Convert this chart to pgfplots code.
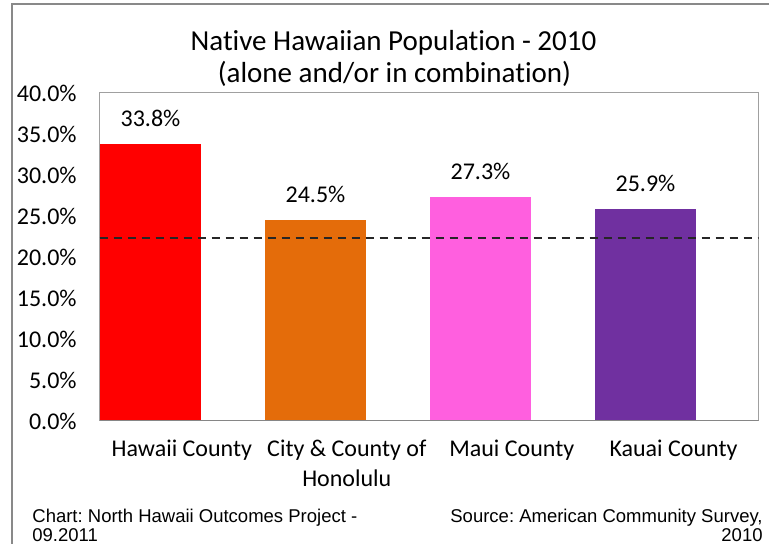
\documentclass[border=0pt]{standalone}
\usepackage{pgfplots}
\pgfplotsset{compat=1.18}
\usepackage{fontspec}
\setmainfont{Carlito}[Ligatures=NoCommon]
\newfontfamily\arialfont{Liberation Sans}
\frenchspacing

\definecolor{hawaiired}{HTML}{FF0000}
\definecolor{honoorange}{HTML}{E46C0A}
\definecolor{mauipink}{HTML}{FF5FDF}
\definecolor{kauaipurple}{HTML}{7030A0}
\definecolor{framegray}{HTML}{A0A0A0}
\definecolor{bordergray}{HTML}{898989}
\definecolor{axisgray}{HTML}{868686}

\begin{document}
\begin{tikzpicture}
\path[use as bounding box] (0,0) rectangle (384.5pt,272pt);
% outer chart border
\draw[bordergray, line width=1pt] (6pt,-2pt) -- (6pt,270pt) -- (390pt,270pt);

\begin{axis}[
    at={(49.75pt,61.5pt)}, anchor=south west,
    scale only axis,
    width=329.5pt, height=164pt,
    xmin=-0.309, xmax=3.685,
    ymin=0, ymax=40,
    ytick={0,5,...,40},
    yticklabel={\pgfmathprintnumber[fixed,fixed zerofill,precision=1]{\tick}\%},
    xtick={0.19,1.19,2.19,3.17},
    xticklabels={Hawaii County,{City \& County of\\Honolulu},Maui County,Kauai County},
    major tick length=0pt,
    /pgf/number format/assume math mode=true,
    tick label style={font=\fontsize{12}{14.6}\selectfont},
    yticklabel style={anchor=east, inner sep=0pt, xshift=-11.25pt},
    xticklabel style={anchor=north, inner sep=0pt, yshift=-9.5pt, align=center},
    axis line style={framegray, line width=0.5pt},
    bar width=50.5pt,
    nodes near coords={\pgfmathprintnumber[fixed,fixed zerofill,precision=1]{\pgfplotspointmeta}\%},
    every node near coord/.append style={anchor=base, yshift=8.8pt, font=\fontsize{12}{14.6}\selectfont, text=black},
]

% bars: one per county
\addplot[ybar, bar shift=0pt, fill=hawaiired, draw=none] coordinates {(0,33.8)};
\addplot[ybar, bar shift=0pt, fill=honoorange, draw=none] coordinates {(1,24.5)};
\addplot[ybar, bar shift=0pt, fill=mauipink, draw=none] coordinates {(2,27.3)};
\addplot[ybar, bar shift=0pt, fill=kauaipurple, draw=none] coordinates {(3,25.9)};

% state reference line
\addplot[black!85, line width=1.1pt, dash pattern=on 4.2pt off 2.8pt, nodes near coords={}] coordinates {(-0.309,22.3) (3.685,22.3)};

\draw[axisgray, line width=1pt] (rel axis cs:0,0) -- (rel axis cs:1,0);
\end{axis}

\node[anchor=base, inner sep=0pt, font=\fontsize{14.5}{16}\selectfont] at (196.75pt,246.65pt) {Native Hawaiian Population - 2010};
\node[anchor=base, inner sep=0pt, font=\fontsize{14.5}{16}\selectfont] at (197.25pt,230.5pt) {(alone and/or in combination)};

\node[anchor=base west, inner sep=0pt, font=\arialfont\fontsize{9.25}{10}\selectfont] at (16pt,10.5pt) {Chart: North Hawaii Outcomes Project -};
\node[anchor=base west, inner sep=0pt, font=\arialfont\fontsize{9.25}{10}\selectfont] at (16pt,1pt) {09.2011};
\node[anchor=base east, inner sep=0pt, font=\arialfont\fontsize{9.25}{10}\selectfont] at (381.5pt,10.5pt) {Source: American Community Survey,};
\node[anchor=base east, inner sep=0pt, font=\arialfont\fontsize{9.25}{10}\selectfont] at (381.5pt,1pt) {2010};
\end{tikzpicture}
\end{document}
